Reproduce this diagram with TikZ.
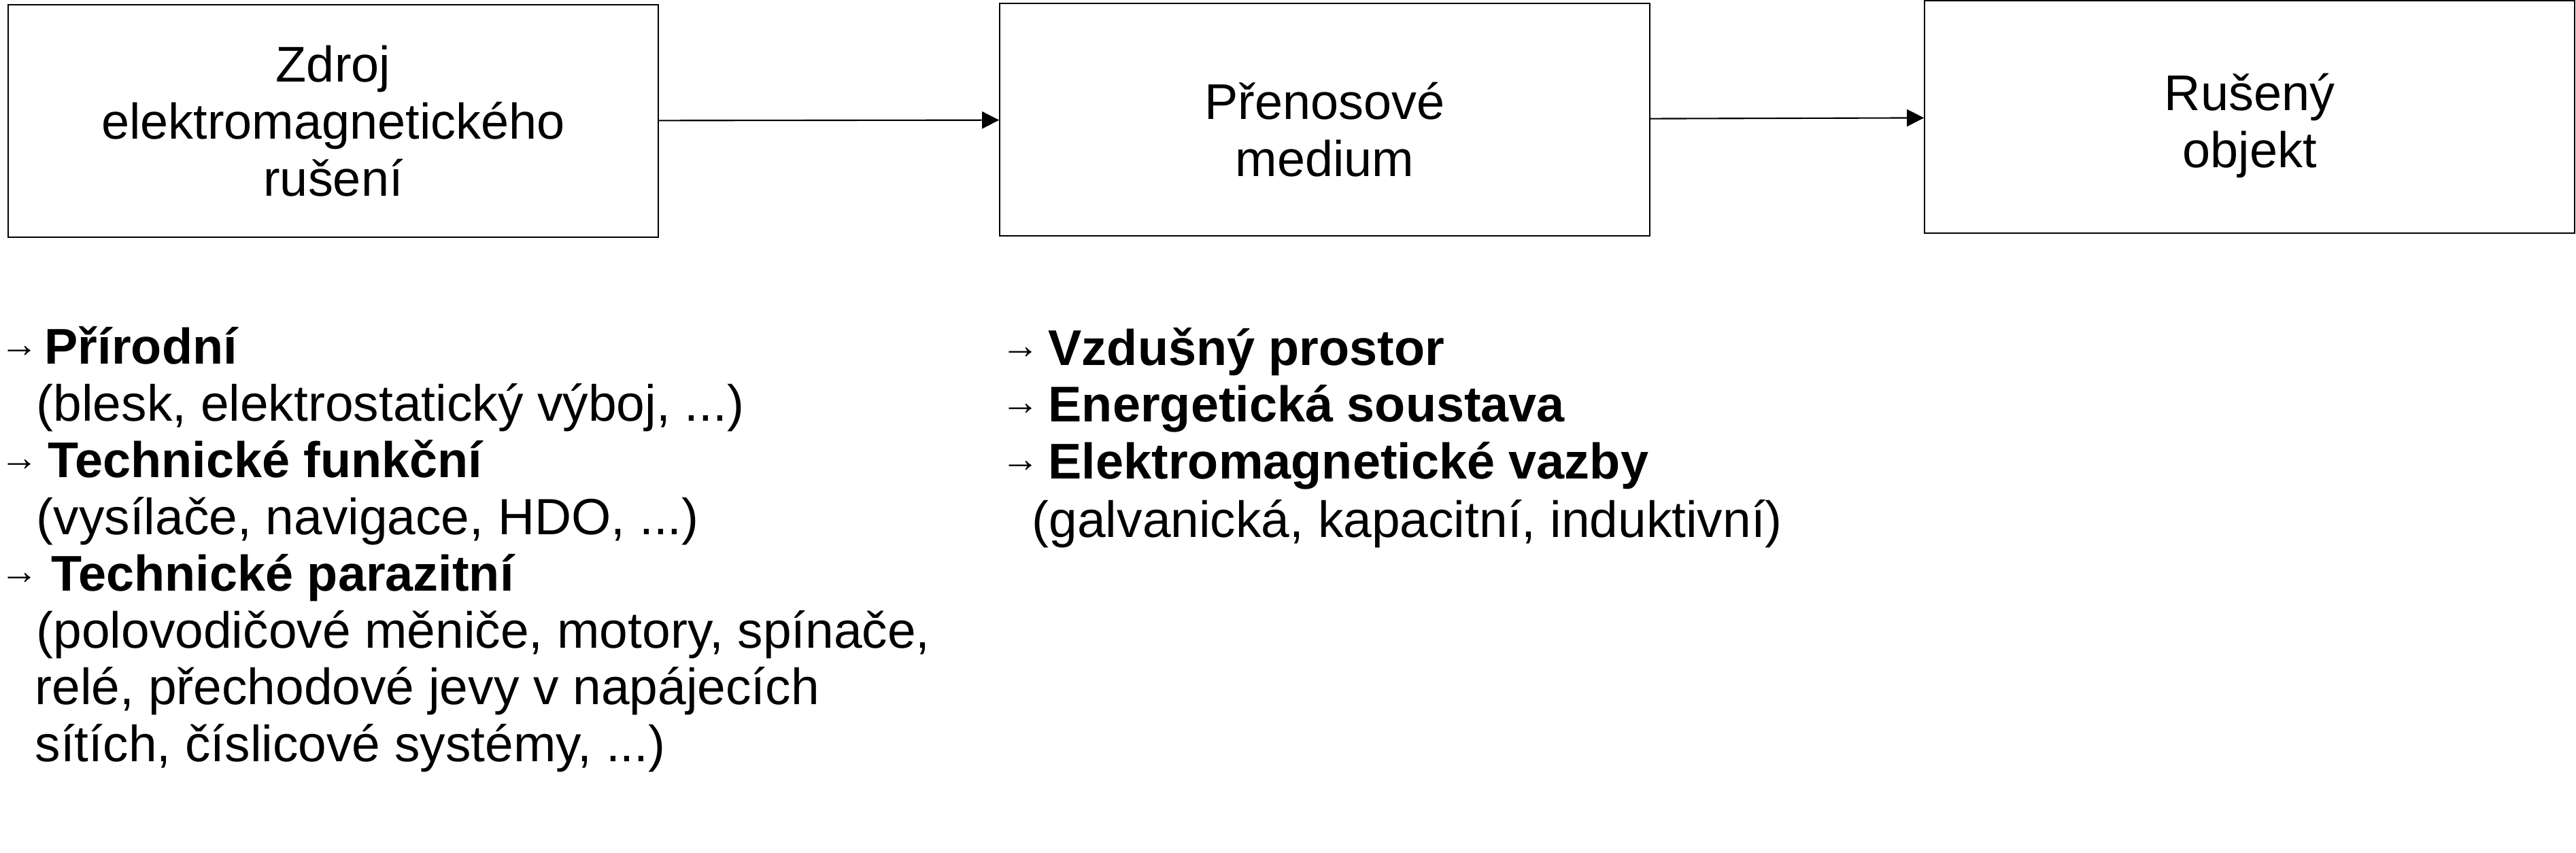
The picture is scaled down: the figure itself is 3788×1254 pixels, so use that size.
\documentclass[tikz,border=0pt]{standalone}
\usepackage{fontspec}
\setmainfont{Liberation Sans}
\usetikzlibrary{arrows.meta}
\tikzset{box/.style={draw, line width=0.6pt, minimum width=9.55cm, minimum height=3.42cm, inner sep=0pt}}
\tikzset{boxtext/.style={align=center, inner sep=0pt, font=\fontsize{21}{23.9}\selectfont}}
\tikzset{arrow/.style={-{Triangle[length=2.5mm, width=2.5mm]}, line width=0.6pt}}
\tikzset{item/.style={anchor=base west, inner sep=0pt, font=\fontsize{21.3}{23.9}\selectfont}}
\tikzset{head/.style={anchor=base west, inner sep=0pt, font=\fontsize{21}{23.9}\selectfont\bfseries}}
\tikzset{tick/.style={anchor=base west, inner sep=0pt, font=\fontsize{16}{16}\selectfont}}

\begin{document}
\begin{tikzpicture}[x=0.01cm, y=-0.01cm]
  \useasboundingbox (0,0) rectangle (3788,1254);

  \node[box] (zdroj) at (490,178) {};
  \node[box] (medium) at (1948,176) {};
  \node[box] (objekt) at (3308,172) {};

  \node[boxtext] (zdrojtext) at (zdroj.center) {Zdroj\\elektromagnetického\\rušení};
  \node[boxtext] (mediumtext) at (1948,191) {Přenosové\\medium};
  \node[boxtext] (objekttext) at (3308,185) {Rušený\\objekt};

  \draw[arrow] (zdroj) -- (medium);
  \draw[arrow] (medium) -- (objekt);

  \node[tick] (t1) at (0,525) {→};
  \node[head] (z1) at (65,535) {Přírodní};
  \node[item] (z1a) at (53,619) {(blesk, elektrostatický výboj, ...)};
  \node[tick] (t2) at (0,692) {→};
  \node[head] (z2) at (70,702) {Technické funkční};
  \node[item] (z2a) at (53,786) {(vysílače, navigace, HDO, ...)};
  \node[tick] (t3) at (0,859) {→};
  \node[head] (z3) at (75,869) {Technické parazitní};
  \node[item] (z3a) at (53,953) {(polovodičové měniče, motory, spínače,};
  \node[item] (z3b) at (51,1036) {relé, přechodové jevy v napájecích};
  \node[item] (z3c) at (51,1120) {sítích, číslicové systémy, ...)};

  \node[tick] (t4) at (1472,527) {→};
  \node[head] (m1) at (1541,537) {Vzdušný prostor};
  \node[tick] (t5) at (1472,610) {→};
  \node[head] (m2) at (1541,620) {Energetická soustava};
  \node[tick] (t6) at (1472,694) {→};
  \node[head] (m3) at (1541,704) {Elektromagnetické vazby};
  \node[item] (m3a) at (1517,790) {(galvanická, kapacitní, induktivní)};
\end{tikzpicture}
\end{document}
